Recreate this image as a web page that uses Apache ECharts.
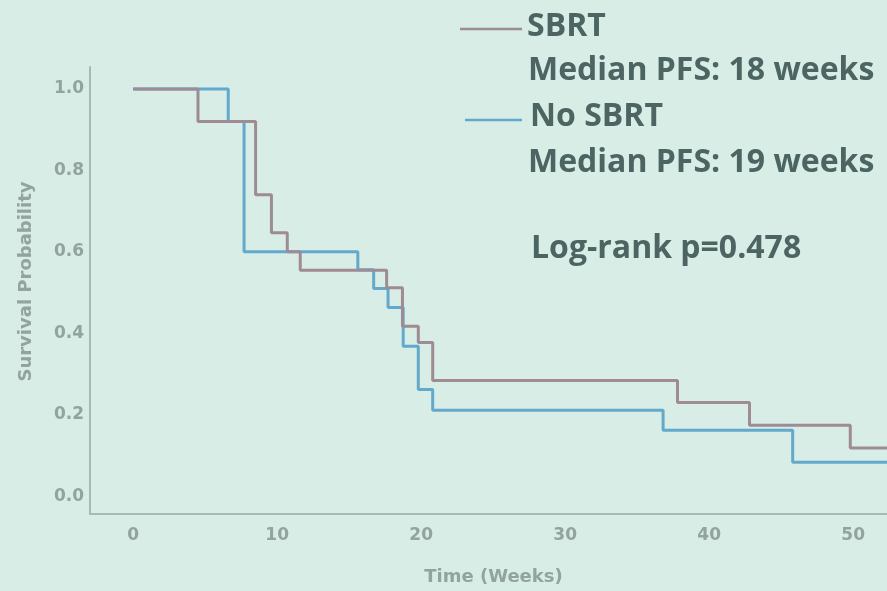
<!DOCTYPE html>
<html>
<head>
<meta charset="utf-8">
<script src="https://cdn.jsdelivr.net/npm/echarts@6/dist/echarts.min.js"></script>
<style>
html,body{margin:0;padding:0;background:#d7ede6;}
#c{width:887px;height:591px;}
</style>
</head>
<body>
<div id="c"></div>
<script>
// Kaplan-Meier step data
const sbrtTime = [0, 4.5, 8.5, 9.6, 10.7, 11.6, 17.6, 18.7, 19.8, 20.8, 37.8, 42.8, 49.8, 52.4];
const sbrtSurv = [1.0, 0.92, 0.74, 0.647, 0.60, 0.555, 0.512, 0.417, 0.377, 0.284, 0.23, 0.174, 0.118, 0.118];
const noSbrtTime = [0, 6.6, 7.7, 15.6, 16.7, 17.7, 18.75, 19.8, 20.8, 36.8, 45.8, 52.4];
const noSbrtSurv = [1.0, 0.92, 0.60, 0.556, 0.51, 0.463, 0.368, 0.262, 0.211, 0.162, 0.083, 0.083];
const xTicks = [0, 10, 20, 30, 40, 50];
const yTicks = [0, 0.2, 0.4, 0.6, 0.8, 1.0];
const seriesNames = ['SBRT', 'No SBRT'];
const legendLines = ['SBRT', 'Median PFS: 18 weeks', 'No SBRT', 'Median PFS: 19 weeks', 'Log-rank p=0.478'];

const chart = echarts.init(document.getElementById('c'));
const pairs = (xs, ys) => xs.map((x, i) => [x, ys[i]]);
const labelColor = '#93a39f';
const axisColor = '#a9bab5';
const sbrtColor = '#9e8b93';
const noColor = '#62a9cb';
const txtColor = '#4c6562';
const font = '"Open Sans", Lato, sans-serif';
const axFont = 'DejaVu Sans';

chart.setOption({
  backgroundColor: '#d7ede6',
  animation: false,
  grid: {left: 90, right: 0, top: 67, bottom: 76, containLabel: false},
  xAxis: {
    type: 'value', min: -3, max: 52.35,
    name: 'Time (Weeks)', nameLocation: 'middle', nameGap: 54,
    nameTextStyle: {color: labelColor, fontSize: 18, fontWeight: 'bold', fontFamily: axFont, padding: [0, 0, 0, 10]},
    axisLine: {show: true, onZero: false, lineStyle: {color: axisColor, width: 2}},
    axisTick: {show: false},
    splitLine: {show: false},
    axisLabel: {customValues: xTicks, color: labelColor, fontSize: 17, fontWeight: 'bold', fontFamily: axFont, margin: 13}
  },
  yAxis: {
    type: 'value', min: -0.044, max: 1.054,
    name: 'Survival Probability', nameLocation: 'middle', nameGap: 55, nameRotate: 90,
    nameTextStyle: {color: labelColor, fontSize: 18, fontWeight: 'bold', fontFamily: axFont, padding: [0, 0, 0, 18]},
    axisLine: {show: true, onZero: false, lineStyle: {color: axisColor, width: 2}},
    axisTick: {show: false},
    splitLine: {show: false},
    axisLabel: {customValues: yTicks, color: labelColor, fontSize: 17, fontWeight: 'bold', fontFamily: axFont, margin: 6,
      formatter: v => v.toFixed(1)}
  },
  series: [
    {name: seriesNames[0], type: 'line', step: 'end', data: pairs(sbrtTime, sbrtSurv), showSymbol: false,
      lineStyle: {color: sbrtColor, width: 3}, z: 3},
    {name: seriesNames[1], type: 'line', step: 'end', data: pairs(noSbrtTime, noSbrtSurv), showSymbol: false,
      lineStyle: {color: noColor, width: 3}, z: 2}
  ],
  graphic: [
    {type: 'line', shape: {x1: 460, y1: 29, x2: 522, y2: 29}, style: {stroke: sbrtColor, lineWidth: 2.5}},
    {type: 'line', shape: {x1: 465, y1: 120, x2: 522, y2: 120}, style: {stroke: noColor, lineWidth: 2.5}},
    {type: 'text', x: 527, y: 27, style: {text: legendLines[0], fill: txtColor, font: 'bold 32px ' + font, textVerticalAlign: 'middle'}},
    {type: 'text', x: 528, y: 71, style: {text: legendLines[1], fill: txtColor, font: 'bold 32px ' + font, textVerticalAlign: 'middle'}},
    {type: 'text', x: 530, y: 117, style: {text: legendLines[2], fill: txtColor, font: 'bold 32px ' + font, textVerticalAlign: 'middle'}},
    {type: 'text', x: 528, y: 163, style: {text: legendLines[3], fill: txtColor, font: 'bold 32px ' + font, textVerticalAlign: 'middle'}},
    {type: 'text', x: 531, y: 249, style: {text: legendLines[4], fill: txtColor, font: 'bold 32px ' + font, textVerticalAlign: 'middle'}}
  ]
});
</script>
</body>
</html>
